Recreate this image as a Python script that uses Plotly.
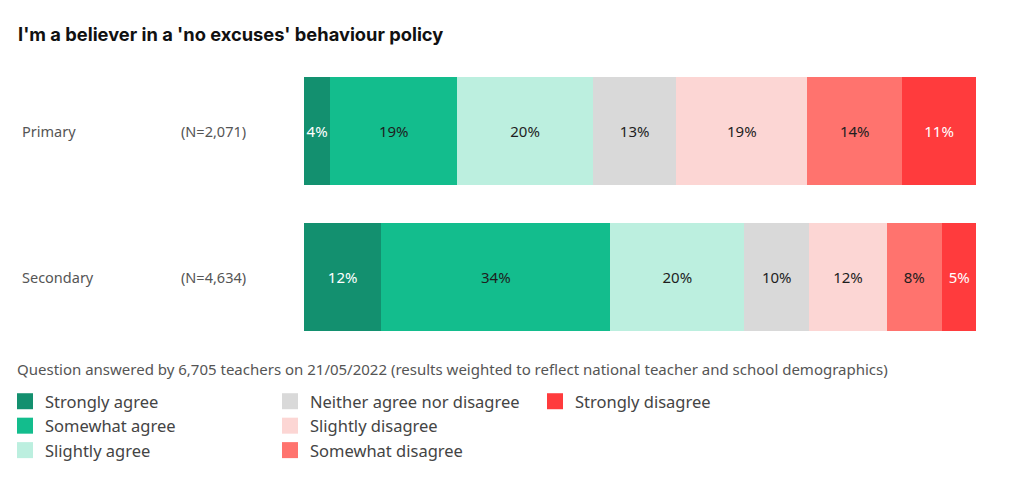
import plotly.graph_objects as go

categories = ["Primary", "Secondary"]
sample_sizes = ["(N=2,071)", "(N=4,634)"]
responses = ["Strongly agree", "Somewhat agree", "Slightly agree",
             "Neither agree nor disagree", "Slightly disagree",
             "Somewhat disagree", "Strongly disagree"]
# underlying shares
primary_values = [3.9, 18.9, 20.2, 12.4, 19.5, 14.1, 11.0]
secondary_values = [11.5, 34.1, 19.9, 9.7, 11.5, 8.2, 5.2]
# labels shown on bars
primary_labels = ["4%", "19%", "20%", "13%", "19%", "14%", "11%"]
secondary_labels = ["12%", "34%", "20%", "10%", "12%", "8%", "5%"]

colors = ["#13906F", "#13BD8D", "#BCEFDF", "#D9D9D9", "#FCD6D4", "#FF736E", "#FF3B3D"]
text_colors = ["#FFFFFF", "#1E1E1E", "#1E1E1E", "#1E1E1E", "#1E1E1E", "#1E1E1E", "#FFFFFF"]
# legend laid out column-wise in 3 rows (row-major ranks)
legend_ranks = [1, 4, 7, 2, 5, 8, 3]

FONT = "Noto Sans"

fig = go.Figure()
for i, name in enumerate(responses):
    fig.add_trace(go.Bar(
        y=categories,
        x=[primary_values[i], secondary_values[i]],
        text=[primary_labels[i], secondary_labels[i]],
        orientation="h",
        name=name,
        marker=dict(color=colors[i], line=dict(width=0)),
        textposition="inside",
        insidetextanchor="middle",
        textangle=0,
        textfont=dict(color=text_colors[i], size=15, family=FONT),
        showlegend=False,
        hoverinfo="skip",
    ))
for i, name in enumerate(responses):
    fig.add_trace(go.Scatter(
        x=[None], y=[None], mode="markers", name=name,
        marker=dict(symbol="square", size=16, color=colors[i]),
        legendrank=legend_ranks[i], showlegend=True, hoverinfo="skip",
    ))
# empty slot in the legend grid (row 2, column 3)
fig.add_trace(go.Scatter(
    x=[None], y=[None], mode="markers", name=" ",
    marker=dict(symbol="square", size=16, color="rgba(0,0,0,0)"),
    legendrank=6, showlegend=True, hoverinfo="skip",
))

L, W = 304, 672
T, H = 58, 292

def px_x(p):
    return (p - L) / W

for cat, n in zip(categories, sample_sizes):
    fig.add_annotation(x=px_x(20), xref="paper", y=cat, yref="y", text=cat,
                       showarrow=False, xanchor="left",
                       font=dict(size=14.5, color="#555555", family=FONT))
    fig.add_annotation(x=px_x(179), xref="paper", y=cat, yref="y", text=n,
                       showarrow=False, xanchor="left",
                       font=dict(size=14.5, color="#555555", family=FONT))

fig.add_annotation(x=px_x(15), xref="paper", y=-(369 - (T + H)) / H, yref="paper",
                   text="Question answered by 6,705 teachers on 21/05/2022 (results weighted to reflect national teacher and school demographics)",
                   showarrow=False, xanchor="left", yanchor="middle",
                   font=dict(size=15, color="#555555", family=FONT))

fig.update_layout(
    width=1024, height=482,
    margin=dict(l=L, r=1024 - L - W, t=T, b=482 - T - H, autoexpand=False),
    paper_bgcolor="white", plot_bgcolor="white",
    barmode="stack", bargap=0.26,
    uniformtext=dict(minsize=15, mode="show"),
    title=dict(text="<b>I'm a believer in a 'no excuses' behaviour policy</b>",
               x=18 / 1024, xref="container", xanchor="left",
               y=1 - 35 / 482, yref="container", yanchor="middle",
               font=dict(size=18.3, color="#111111", family="Inter")),
    xaxis=dict(range=[0, 100], visible=False, fixedrange=True),
    yaxis=dict(autorange="reversed", visible=False, fixedrange=True),
    legend=dict(orientation="h", x=px_x(5), xanchor="left", y=-(384 - (T + H)) / H,
                yanchor="top", entrywidth=220, traceorder="normal",
                font=dict(size=16.5, color="#444444", family=FONT),
                bgcolor="rgba(0,0,0,0)", itemclick=False, itemdoubleclick=False),
    showlegend=True,
)

fig.write_html("out.html")
